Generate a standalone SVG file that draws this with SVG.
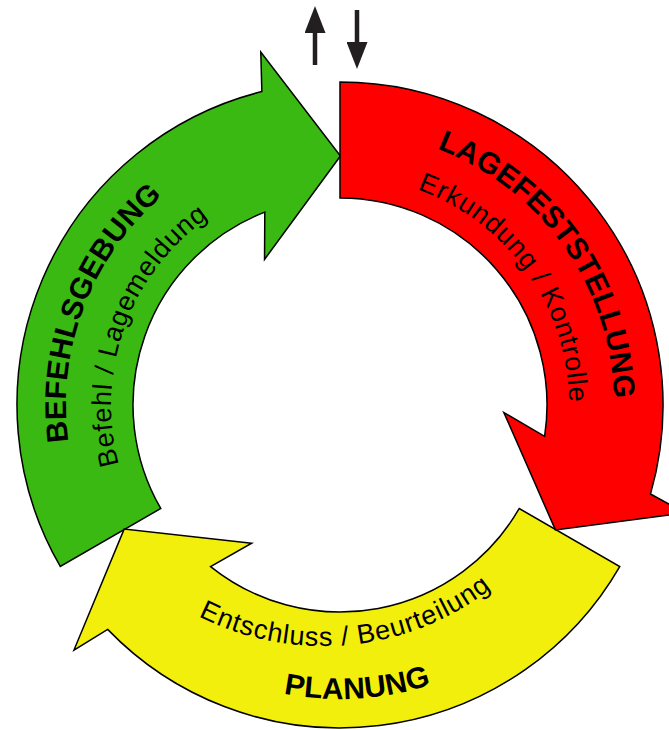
<svg xmlns="http://www.w3.org/2000/svg" xmlns:xlink="http://www.w3.org/1999/xlink" width="669" height="730" viewBox="0 0 669 730">
  <style>
    .shape { stroke: #000; stroke-width: 1.5; stroke-linejoin: miter; }
    .title { font-family: "Liberation Sans", Arial, sans-serif; font-weight: bold; font-size: 30px; letter-spacing: 0.2px; fill: #000; }
    .sub { font-family: "Liberation Sans", Arial, sans-serif; font-size: 27px; letter-spacing: 0.9px; fill: #000; }
    .ptr { stroke: #231F20; stroke-width: 4.5; fill: none; }
  </style>
  <defs>
    <path id="arrowShape" class="shape" d="M340,82 A323,323 0 0 1 650.49,494.03 L685.24,512.86 L555.42,529.88 L503.83,412.44 L544.62,436.31 A207,207 0 0 0 340,198 Z"/>
    <path id="tpGreenTitle" d="M219.89,651.27 A274,274 0 0 1 415.52,141.61"/>
    <path id="tpGreenSub" d="M243.22,612.54 A229,229 0 0 1 399.27,183.80"/>
    <path id="tpRedTitle" d="M201.76,168.43 A274,274 0 0 1 517.22,613.97"/>
    <path id="tpRedSub" d="M224.12,207.48 A229,229 0 0 1 488.42,579.39"/>
    <path id="tpYellowTitle" d="M49.23,448.46 A294,294 0 0 0 633.90,412.70"/>
    <path id="tpYellowSub" d="M52.60,421.11 A275,275 0 0 0 597.99,368.60"/>
    <marker id="head" viewBox="0 0 27 21" refX="0" refY="10.5" markerWidth="27" markerHeight="21" markerUnits="userSpaceOnUse" orient="auto">
      <path d="M0,0 L27,10.5 L0,21 Z" fill="#231F20"/>
    </marker>
  </defs>

  <g id="befehlsgebung">
    <use xlink:href="#arrowShape" href="#arrowShape" fill="#3AB913" transform="rotate(-120 340 405)"/>
    <text class="title"><textPath xlink:href="#tpGreenTitle" href="#tpGreenTitle" startOffset="50%" text-anchor="middle">BEFEHLSGEBUNG</textPath></text>
    <text class="sub"><textPath xlink:href="#tpGreenSub" href="#tpGreenSub" startOffset="50%" text-anchor="middle">Befehl / Lagemeldung</textPath></text>
  </g>

  <g id="planung">
    <use xlink:href="#arrowShape" href="#arrowShape" fill="#F2EF0C" transform="rotate(120 340 405)"/>
    <text class="title"><textPath xlink:href="#tpYellowTitle" href="#tpYellowTitle" startOffset="50%" text-anchor="middle">PLANUNG</textPath></text>
    <text class="sub"><textPath xlink:href="#tpYellowSub" href="#tpYellowSub" startOffset="50%" text-anchor="middle">Entschluss / Beurteilung</textPath></text>
  </g>

  <g id="lagefeststellung">
    <use xlink:href="#arrowShape" href="#arrowShape" fill="#FF0000"/>
    <text class="title"><textPath xlink:href="#tpRedTitle" href="#tpRedTitle" startOffset="50%" text-anchor="middle">LAGEFESTSTELLUNG</textPath></text>
    <text class="sub"><textPath xlink:href="#tpRedSub" href="#tpRedSub" startOffset="50%" text-anchor="middle">Erkundung / Kontrolle</textPath></text>
  </g>

  <g id="connectors">
    <line class="ptr" x1="315" y1="65" x2="315" y2="33" marker-end="url(#head)"/>
    <line class="ptr" x1="357" y1="10" x2="357" y2="42" marker-end="url(#head)"/>
  </g>
</svg>
